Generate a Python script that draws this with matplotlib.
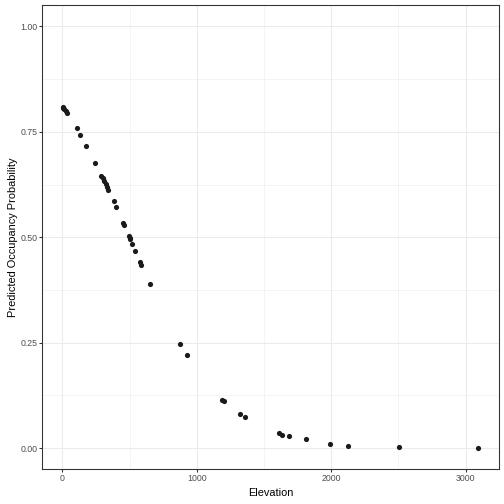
import matplotlib
matplotlib.use("Agg")
import matplotlib.pyplot as plt
from matplotlib.ticker import FixedLocator

elevation = [2, 4, 15, 27, 35, 107, 129, 174, 241, 291, 301, 308, 323, 331, 338,
             383, 398, 450, 457, 493, 500, 505, 517, 540, 575, 584, 652,
             876, 928, 1187, 1204, 1323, 1361, 1614, 1637, 1689, 1813, 1995,
             2122, 2502, 3092]
probability = [0.810, 0.807, 0.803, 0.799, 0.795, 0.758, 0.743, 0.717, 0.677,
               0.646, 0.641, 0.634, 0.626, 0.620, 0.613, 0.585, 0.573, 0.535,
               0.528, 0.502, 0.498, 0.495, 0.485, 0.468, 0.442, 0.435, 0.390,
               0.248, 0.220, 0.115, 0.111, 0.082, 0.073, 0.035, 0.032, 0.028,
               0.021, 0.011, 0.006, 0.002, 0.000]

x_ticks = [0, 1000, 2000, 3000]
x_tick_labels = ["0", "1000", "2000", "3000"]
y_ticks = [0.0, 0.25, 0.5, 0.75, 1.0]
y_tick_labels = ["0.00", "0.25", "0.50", "0.75", "1.00"]

plt.rcParams['font.family'] = ['Liberation Sans', 'DejaVu Sans']

fig = plt.figure(figsize=(7, 7), dpi=72)
ax = fig.add_axes([42.3/504, (504-469.3)/504, (498.7-42.3)/504, (469.3-5.3)/504])

ax.set_xlim(-149, 3247)
ax.set_ylim(-0.05, 1.05)

ax.xaxis.set_major_locator(FixedLocator(x_ticks))
ax.set_xticklabels(x_tick_labels)
ax.yaxis.set_major_locator(FixedLocator(y_ticks))
ax.set_yticklabels(y_tick_labels)
ax.xaxis.set_minor_locator(FixedLocator([500, 1500, 2500]))
ax.yaxis.set_minor_locator(FixedLocator([0.125, 0.375, 0.625, 0.875]))

ax.grid(which='major', color='#EBEBEB', linewidth=1.07)
ax.grid(which='minor', color='#EBEBEB', linewidth=0.53)
ax.set_axisbelow(True)

ax.scatter(elevation, probability, s=27, color='#1a1a1a', linewidths=0, zorder=3)

for sp in ax.spines.values():
    sp.set_color('#333333')
    sp.set_linewidth(1.07)

ax.tick_params(which='major', direction='out', length=2.75, width=1.07,
               color='#333333', labelcolor='#4D4D4D', labelsize=8.8, pad=2.2)
ax.tick_params(which='minor', length=0)

ax.set_xlabel("Elevation", fontsize=11, color='black', labelpad=5)
ax.set_ylabel("Predicted Occupancy Probability", fontsize=11, color='black', labelpad=2.5)

fig.savefig("out.png", dpi=72, facecolor='white')
